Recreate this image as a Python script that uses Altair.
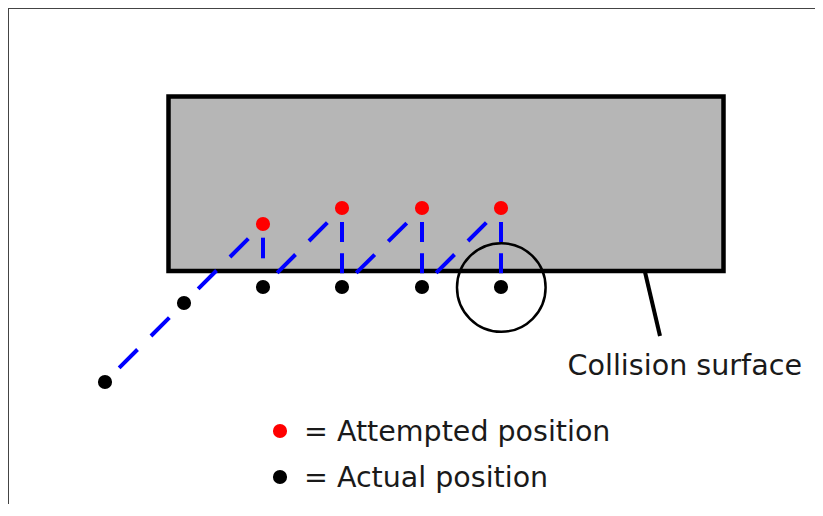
import altair as alt
import pandas as pd

# ---- values (page-pixel coordinates) ----
surface_x = [168.5, 723.5]
surface_y = [96.5, 271.0]

path_x = [105, 184, 263, 263, 342, 342, 422, 422, 501, 501]
path_y = [382, 303, 224, 287, 208, 287, 208, 287, 208, 287]

attempted_x = [263, 342, 422, 501]
attempted_y = [224, 208, 208, 208]

actual_x = [105, 184, 263, 342, 422, 501]
actual_y = [382, 303, 287, 287, 287, 287]

ring_x = [501.3]
ring_y = [287.5]

pointer_x = [645, 660]
pointer_y = [272, 336]

surface_label = ["Collision surface"]
surface_label_x = [567.5]
surface_label_y = [375]

legend_labels = ["= Attempted position", "= Actual position"]
legend_colors = ["#ff0000", "#000000"]
legend_dot_x = [280, 280]
legend_dot_y = [431, 477]
legend_text_x = [304, 304]
legend_text_y = [441, 487]

# ---- build tables ----
W, H = 807, 496
X = alt.Scale(domain=[8, 8 + W], nice=False, zero=False)
Y = alt.Scale(domain=[8, 8 + H], nice=False, zero=False, reverse=True)

def xq(f="x"):
    return alt.X(f"{f}:Q", scale=X, axis=None)

def yq(f="y"):
    return alt.Y(f"{f}:Q", scale=Y, axis=None)

rect_df = pd.DataFrame({"x": [surface_x[0]], "x2": [surface_x[1]],
                        "y": [surface_y[0]], "y2": [surface_y[1]]})

rows_diag, rows_vert, rows_first = [], [], []
for i in range(len(path_x) - 1):
    seg = [(path_x[i], path_y[i]), (path_x[i + 1], path_y[i + 1])]
    if path_x[i] == path_x[i + 1]:
        target = rows_first if not rows_vert and not rows_first else rows_vert
    else:
        target = rows_diag
    for k, (px, py) in enumerate(seg):
        target.append({"x": px, "y": py, "seg": i, "k": k})

diag_df = pd.DataFrame(rows_diag)
vert_df = pd.DataFrame(rows_vert)
first_df = pd.DataFrame(rows_first)

att_df = pd.DataFrame({"x": attempted_x, "y": attempted_y})
act_df = pd.DataFrame({"x": actual_x, "y": actual_y})
ring_df = pd.DataFrame({"x": ring_x, "y": ring_y})
ptr_df = pd.DataFrame({"x": [pointer_x[0]], "x2": [pointer_x[1]],
                       "y": [pointer_y[0]], "y2": [pointer_y[1]]})
lab_df = pd.DataFrame({"x": surface_label_x, "y": surface_label_y, "t": surface_label})
leg_df = pd.DataFrame({"dx": legend_dot_x, "dy": legend_dot_y,
                       "tx": legend_text_x, "ty": legend_text_y,
                       "t": legend_labels, "c": legend_colors})

# ---- layers ----
border_top = alt.Chart(rect_df).mark_rule(color="#444444", strokeWidth=2).encode(
    x=alt.value(0), x2=alt.value(W), y=alt.value(0))
border_left = alt.Chart(rect_df).mark_rule(color="#444444", strokeWidth=2).encode(
    x=alt.value(0), y=alt.value(0), y2=alt.value(H))

surface = alt.Chart(rect_df).mark_rect(fill="#b6b6b6", stroke="#000000", strokeWidth=4.5).encode(
    x=xq(), x2="x2:Q", y=yq(), y2="y2:Q")

pointer = alt.Chart(ptr_df).mark_rule(color="#000000", strokeWidth=4).encode(
    x=xq(), x2="x2:Q", y=yq(), y2="y2:Q")

line_common = dict(color="#0000ff", strokeWidth=4, strokeCap="butt")
diag = alt.Chart(diag_df).mark_line(strokeDash=[26, 19, 26, 40], strokeDashOffset=91, **line_common).encode(
    x=xq(), y=yq(), detail="seg:N", order="k:Q")
vert = alt.Chart(vert_df).mark_line(strokeDash=[20, 11.3, 20, 28], strokeDashOffset=65.3, **line_common).encode(
    x=xq(), y=yq(), detail="seg:N", order="k:Q")
first = alt.Chart(first_df).mark_line(strokeDash=[20.6, 60], strokeDashOffset=66.9, **line_common).encode(
    x=xq(), y=yq(), detail="seg:N", order="k:Q")

ring = alt.Chart(ring_df).mark_point(shape="circle", filled=False, size=7850,
                                     color="#000000", strokeWidth=2.5, opacity=1).encode(x=xq(), y=yq())

att = alt.Chart(att_df).mark_circle(size=200, color="#ff0000", opacity=1).encode(x=xq(), y=yq())
act = alt.Chart(act_df).mark_circle(size=200, color="#000000", opacity=1).encode(x=xq(), y=yq())

lab = alt.Chart(lab_df).mark_text(align="left", baseline="alphabetic", font="DejaVu Sans",
                                  fontSize=28.6, color="#1a1a1a").encode(x=xq(), y=yq(), text="t:N")

leg_dots = alt.Chart(leg_df).mark_circle(size=200, opacity=1).encode(
    x=xq("dx"), y=yq("dy"), color=alt.Color("c:N", scale=None, legend=None))
leg_text = alt.Chart(leg_df).mark_text(align="left", baseline="alphabetic", font="DejaVu Sans",
                                       fontSize=28.5, color="#1a1a1a").encode(x=xq("tx"), y=yq("ty"), text="t:N")

chart = alt.layer(
    surface, pointer, diag, vert, first, ring, att, act, lab, leg_dots, leg_text,
    border_top, border_left
).properties(
    width=W, height=H, padding=0, autosize=alt.AutoSizeParams(type="none"), background="white"
).configure_view(strokeWidth=0)

chart.save("out.html", embed_options={"renderer": "svg", "actions": False})
